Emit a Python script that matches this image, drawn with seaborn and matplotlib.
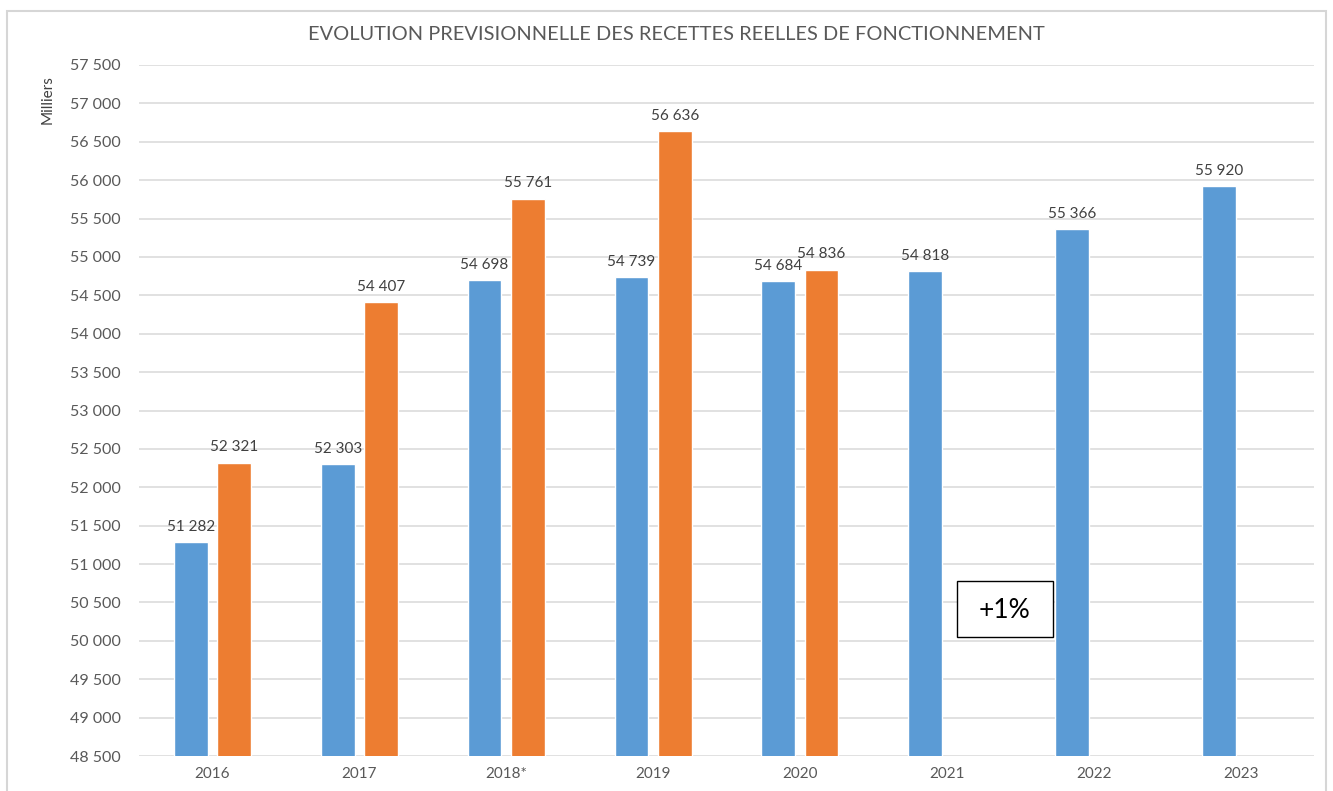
import matplotlib
matplotlib.use("Agg")
import matplotlib.pyplot as plt
from matplotlib.patches import Rectangle
import numpy as np
import pandas as pd
import seaborn as sns

# Data (thousands of euros)
years = ["2016", "2017", "2018*", "2019", "2020", "2021", "2022", "2023"]
serie_1 = [51282, 52303, 54698, 54739, 54684, 54818, 55366, 55920]
serie_2 = [52321, 54407, 55761, 56636, 54836, np.nan, np.nan, np.nan]
series_names = ["Série 1", "Série 2"]
y_ticks = list(range(48500, 57501, 500))

df = pd.DataFrame({
    "annee": years * 2,
    "valeur": serie_1 + serie_2,
    "serie": [series_names[0]] * len(years) + [series_names[1]] * len(years),
})

sns.set_theme(style="white")
plt.rcParams["font.family"] = ["Lato", "DejaVu Sans"]

fig = plt.figure(figsize=(13.33, 7.91), dpi=100)
ax = fig.add_axes([139 / 1333, 1 - 756 / 791, (1314 - 139) / 1333, (756 - 65) / 791])

palette = {series_names[0]: "#5B9BD5", series_names[1]: "#ED7D31"}
sns.barplot(data=df, x="annee", y="valeur", hue="serie", order=years,
            hue_order=series_names, palette=palette, width=0.59, gap=0.22,
            saturation=1, legend=False, ax=ax, zorder=3)

ax.set_ylim(48500, 57500)
ax.set_yticks(y_ticks)
ax.set_yticklabels([f"{v:,}".replace(",", " ") for v in y_ticks])
ax.grid(axis="y", color="#D9D9D9", linewidth=1.1, zorder=0)
ax.set_axisbelow(True)
for s in ax.spines.values():
    s.set_visible(False)
ax.tick_params(axis="y", length=0, pad=13, labelsize=11.5, labelcolor="#595959")
ax.tick_params(axis="x", length=0, pad=8, labelsize=11, labelcolor="#595959")
ax.set_xlabel("")
ax.set_ylabel("")

# Value labels above each bar
for container in ax.containers:
    labels = [("" if np.isnan(v) else f"{int(v):,}".replace(",", " "))
              for v in container.datavalues]
    ax.bar_label(container, labels=labels, padding=6, fontsize=11,
                 color="#404040")

fig.text(48 / 1333, 1 - 100 / 791, "Milliers", rotation=90, ha="center",
         va="center", fontsize=11, color="#404040")
fig.text(676 / 1333, 1 - 34 / 791,
         "EVOLUTION PREVISIONNELLE DES RECETTES REELLES DE FONCTIONNEMENT",
         ha="center", va="center", fontsize=14.4, color="#595959")

# Annotation box
fig.patches.append(Rectangle((957 / 1333, 1 - 637 / 791), 96 / 1333, 56 / 791,
                             transform=fig.transFigure, facecolor="white",
                             edgecolor="black", linewidth=1, zorder=5))
fig.text(1005 / 1333, 1 - 610 / 791, "+1%", ha="center", va="center",
         fontsize=19, color="black", zorder=6)

# Chart frame
fig.patches.append(Rectangle((7 / 1333, -0.02), (1326 - 7) / 1333,
                             1 - 11 / 791 + 0.02, transform=fig.transFigure,
                             fill=False, edgecolor="#D6D6D6", linewidth=1.5))

fig.savefig("out.png", dpi=100)
